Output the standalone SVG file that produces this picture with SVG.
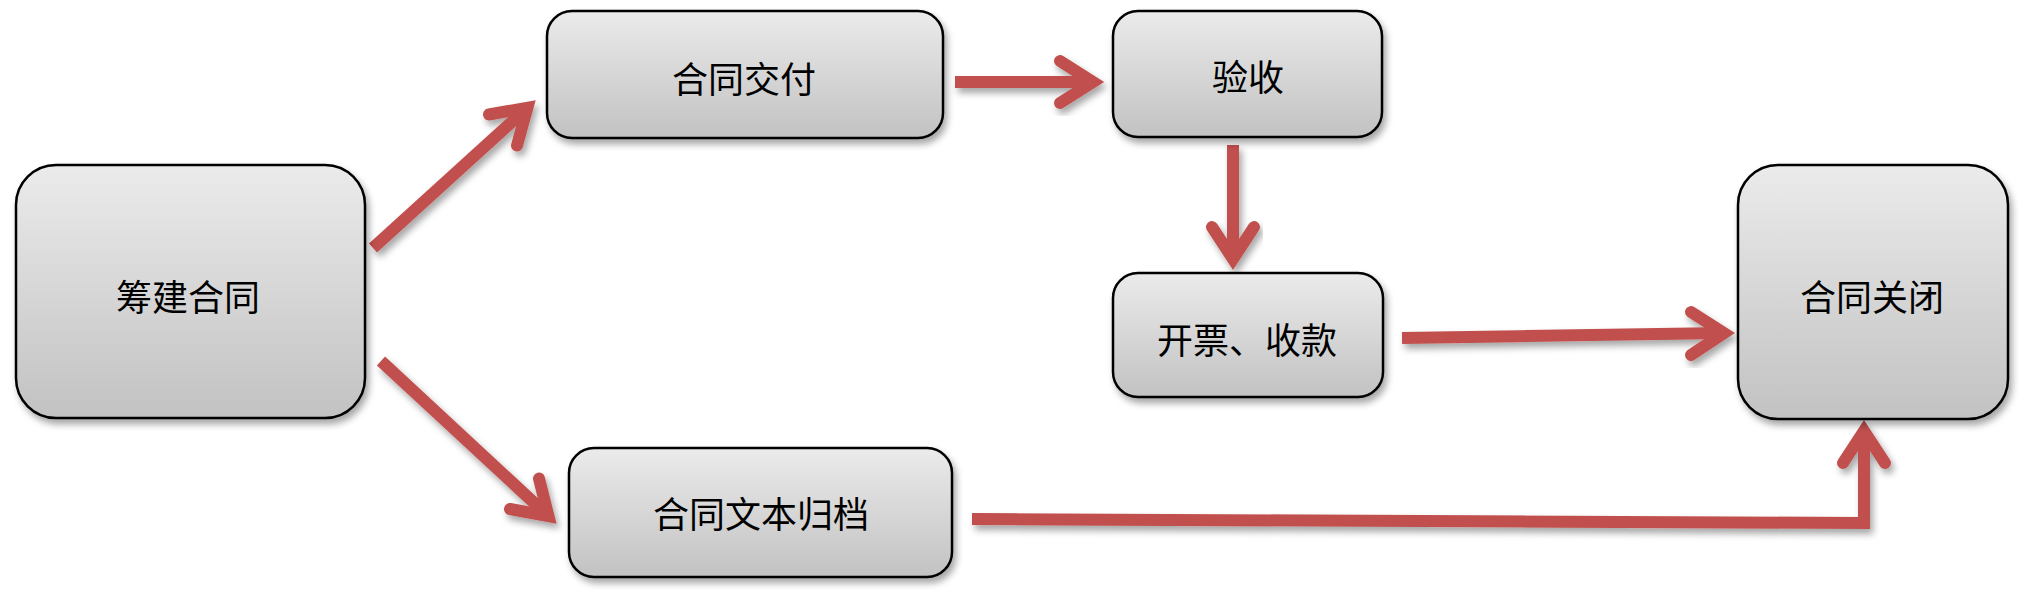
<svg xmlns="http://www.w3.org/2000/svg" width="2025" height="600" viewBox="0 0 2025 600">
  <defs>
    <linearGradient id="boxGrad" x1="0" y1="0" x2="0" y2="1">
      <stop offset="0" stop-color="#EBEBEB"/>
      <stop offset="1" stop-color="#C2C2C2"/>
    </linearGradient>
    <filter id="shadow" x="-20%" y="-20%" width="140%" height="150%">
      <feDropShadow dx="3" dy="5" stdDeviation="3.5" flood-color="#000" flood-opacity="0.35"/>
    </filter>
  </defs>
  <style>
    .box { fill: url(#boxGrad); stroke: #000; stroke-width: 2.5; filter: url(#shadow); }
    .label { font-family: "Noto Sans CJK SC", "Microsoft YaHei", sans-serif; font-size: 36px; fill: #000; text-anchor: middle; }
    .shaft { fill: none; stroke: #C0504D; stroke-width: 12; stroke-linecap: butt; stroke-linejoin: miter; }
    .head { fill: none; stroke: #C0504D; stroke-width: 12; stroke-linecap: round; stroke-linejoin: miter; stroke-miterlimit: 6; }
    .conn { filter: url(#shadow); }
  </style>
  <rect width="2025" height="600" fill="#fff"/>

  <g id="connectors">
    <g class="conn" id="c1">
      <line class="shaft" x1="373" y1="248" x2="527.4" y2="107.7"/>
      <polyline class="head" points="489,114.5 527.4,107.7 517,145.5"/>
    </g>
    <g class="conn" id="c2">
      <line class="shaft" x1="381" y1="361" x2="548.5" y2="516.2"/>
      <polyline class="head" points="539,478.5 548.5,516.2 510,509"/>
    </g>
    <g class="conn" id="c3">
      <line class="shaft" x1="955" y1="82" x2="1093" y2="82"/>
      <polyline class="head" points="1060,61 1093,82 1060,103"/>
    </g>
    <g class="conn" id="c4">
      <line class="shaft" x1="1233" y1="145" x2="1233" y2="259"/>
      <polyline class="head" points="1212,227 1233,259 1254,227"/>
    </g>
    <g class="conn" id="c5">
      <line class="shaft" x1="1402" y1="338" x2="1724" y2="333"/>
      <polyline class="head" points="1691,312 1724,333 1691,355"/>
    </g>
    <g class="conn" id="c6">
      <polyline class="shaft" points="972,519 1864,523 1864,431"/>
      <polyline class="head" points="1843,463 1864,431 1885,463"/>
    </g>
  </g>

  <g id="node-chouJian">
    <rect class="box" x="16" y="165" width="349" height="253" rx="40" ry="40"/>
    <text class="label" x="188" y="311">筹建合同</text>
  </g>
  <g id="node-jiaoFu">
    <rect class="box" x="547" y="11" width="396" height="127" rx="25" ry="25"/>
    <text class="label" x="744" y="93">合同交付</text>
  </g>
  <g id="node-yanShou">
    <rect class="box" x="1113" y="11" width="269" height="126" rx="25" ry="25"/>
    <text class="label" x="1248" y="91">验收</text>
  </g>
  <g id="node-kaiPiao">
    <rect class="box" x="1113" y="273" width="270" height="124" rx="25" ry="25"/>
    <text class="label" x="1247" y="354">开票、收款</text>
  </g>
  <g id="node-guiDang">
    <rect class="box" x="569" y="448" width="383" height="129" rx="25" ry="25"/>
    <text class="label" x="761" y="528">合同文本归档</text>
  </g>
  <g id="node-guanBi">
    <rect class="box" x="1738" y="165" width="270" height="254" rx="40" ry="40"/>
    <text class="label" x="1872" y="311">合同关闭</text>
  </g>
</svg>
